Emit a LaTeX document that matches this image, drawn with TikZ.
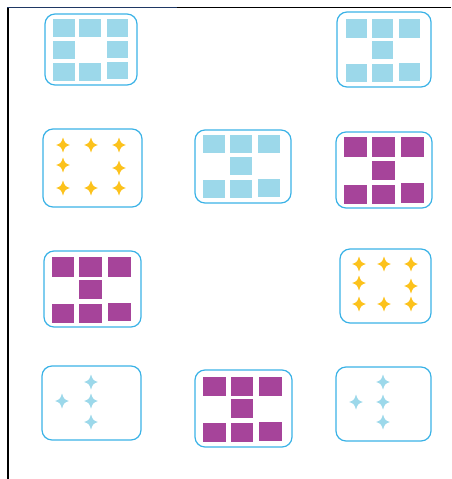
\documentclass[tikz,border=0pt]{standalone}
\definecolor{boxline}{RGB}{58,178,230}
\definecolor{lblue}{RGB}{156,216,234}
\definecolor{purp}{RGB}{166,68,154}
\definecolor{gold}{RGB}{252,194,28}
\definecolor{navy}{RGB}{31,56,100}
\tikzset{
  card/.style={draw=boxline, line width=1.2pt, rounded corners=10pt},
  blu/.style={fill=lblue},
  pur/.style={fill=purp},
}
\newcommand\starat[3]{\begin{scope}[shift={(#2,#3)}]\fill[#1] (0,-7.5) .. controls (1.9,-1.9) .. (6.8,0) .. controls (1.9,1.9) .. (0,7.5) .. controls (-1.9,1.9) .. (-6.8,0) .. controls (-1.9,-1.9) .. cycle;\end{scope}}
\begin{document}
\begin{tikzpicture}[x=1pt,y=-1pt]
\useasboundingbox (0,0) rectangle (451,479);
% frame
\draw[line width=1.5pt] (8,479) -- (8,7.3);
\draw[navy,line width=1.5pt] (7.3,7.3) -- (177,7.3);
\draw[line width=1.5pt] (177,7.3) -- (451,7.3);

% box 1: ring of light blue squares
\draw[card] (45,14) rectangle (137,85);
\foreach \a/\b/\c/\d in {53/19/75/37, 79/19/101/37, 107/19/128/37,
  53/41/75/59, 107/41/128/58,
  53/63/75/81, 79/63/101/81, 107/62/128/79}
  {\fill[blu] (\a,\b) rectangle (\c,\d);}

% box 2: top right H pattern
\draw[card] (337,12) rectangle (431,87);
\foreach \a/\b/\c/\d in {346/19/367/38, 372/19/393/38, 399/19/420/38,
  372/41/393/59,
  346/64/367/82, 372/64/393/82, 399/63/420/81}
  {\fill[blu] (\a,\b) rectangle (\c,\d);}

% row 2 left: yellow stars
\draw[card] (43,129) rectangle (142,207);
\foreach \p/\q in {63/145, 91/145, 119/145, 63/165, 119/168, 63/188, 91/188, 119/188}
  {\starat{gold}{\p}{\q}}

% row 2 middle: light blue H
\draw[card] (195,130) rectangle (291,203);
\foreach \a/\b/\c/\d in {203/135/225/153, 230/135/252/153, 258/135/280/153,
  230/157/252/175,
  203/180/225/198, 230/180/252/198, 258/179/280/197}
  {\fill[blu] (\a,\b) rectangle (\c,\d);}

% row 2 right: purple H
\draw[card] (336,132) rectangle (432,208);
\foreach \a/\b/\c/\d in {344/137/367/157, 372/137/395/157, 401/137/424/157,
  372/161/395/180,
  344/185/367/204, 372/185/395/204, 401/183/424/203}
  {\fill[pur] (\a,\b) rectangle (\c,\d);}

% row 3 left: purple H
\draw[card] (44,251) rectangle (141,327);
\foreach \a/\b/\c/\d in {52/257/74/277, 79/257/102/277, 108/257/131/277,
  79/280/102/299,
  52/304/74/323, 79/304/102/323, 108/303/131/321}
  {\fill[pur] (\a,\b) rectangle (\c,\d);}

% row 3 right: yellow stars
\draw[card] (340,249) rectangle (431,323);
\foreach \p/\q in {359/264, 384/264, 411/264, 359/283, 411/286, 359/304, 384/304, 411/304}
  {\starat{gold}{\p}{\q}}

% row 4 left: light blue stars
\draw[card] (42,366) rectangle (141,440);
\foreach \p/\q in {91/382, 62/401, 91/401, 91/422}
  {\starat{lblue}{\p}{\q}}

% row 4 middle: purple H
\draw[card] (195,370) rectangle (292,447);
\foreach \a/\b/\c/\d in {203/377/226/396, 231/377/253/396, 259/377/282/396,
  231/399/253/418,
  203/423/226/442, 231/423/253/442, 259/422/282/441}
  {\fill[pur] (\a,\b) rectangle (\c,\d);}

% row 4 right: light blue stars
\draw[card] (336,367) rectangle (431,441);
\foreach \p/\q in {383/382, 356/402, 383/402, 383/422}
  {\starat{lblue}{\p}{\q}}
\end{tikzpicture}
\end{document}
